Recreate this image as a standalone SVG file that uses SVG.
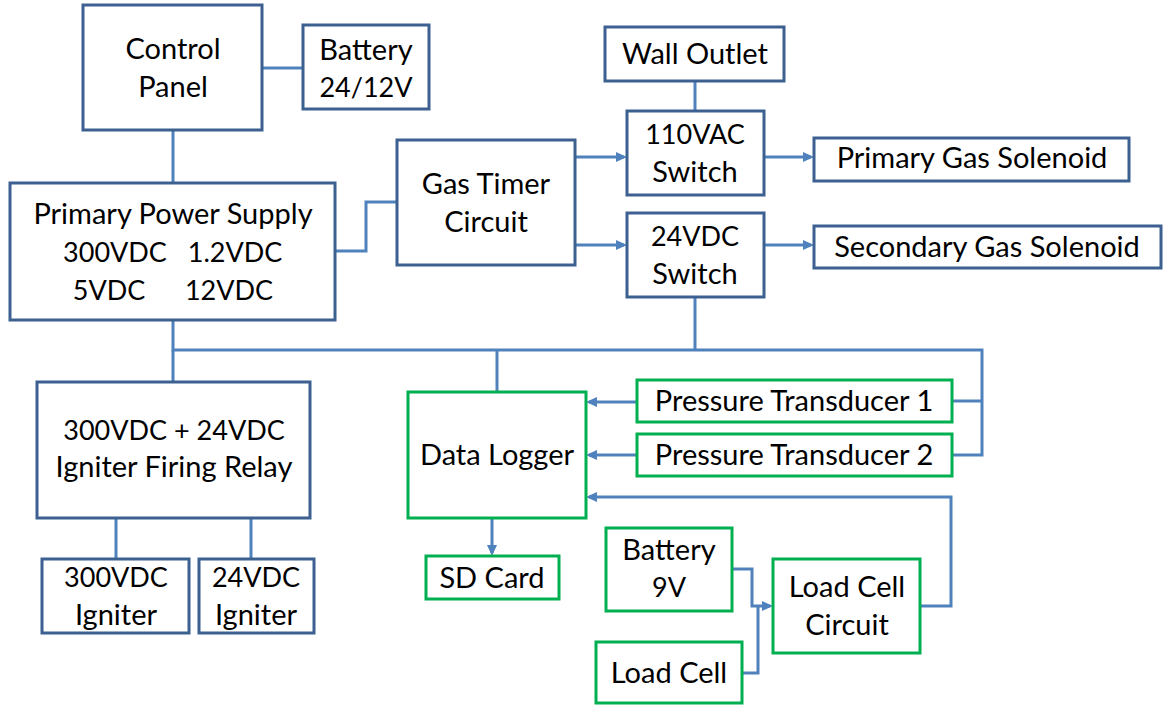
<svg xmlns="http://www.w3.org/2000/svg" width="1166" height="706" viewBox="0 0 1166 706">
<defs>
<style>
.b{fill:#fff;stroke:#3C6191;stroke-width:3}
.g{fill:#fff;stroke:#00B050;stroke-width:3}
.t{font-family:Lato,"Liberation Sans",sans-serif;font-size:29px;fill:#000;text-anchor:middle}
.n{font-size:27px}
.c{fill:none;stroke:#4F81BD;stroke-width:3}
.a{marker-end:url(#ah)}
</style>
<marker id="ah" markerUnits="userSpaceOnUse" markerWidth="12" markerHeight="12" refX="8" refY="5" orient="auto">
<path d="M0,0 L11,5 L0,10 z" fill="#4F81BD"/>
</marker>
</defs>
<rect width="1166" height="706" fill="#fff"/>
<g id="connectors">
<path class="c" d="M262,68 H303"/>
<path class="c" d="M173,130 V183"/>
<path class="c" d="M335,251 H366 V202 H397"/>
<path class="c a" d="M575,157 H624"/>
<path class="c a" d="M575,245 H624"/>
<path class="c" d="M695,81 V111"/>
<path class="c a" d="M764,157 H811"/>
<path class="c a" d="M764,245 H811"/>
<path class="c" d="M173,320 V350 H982 V455 H951"/>
<path class="c" d="M695,297 V350"/>
<path class="c" d="M982,401 H951"/>
<path class="c" d="M173,350 V381"/>
<path class="c" d="M497,350 V392"/>
<path class="c" d="M116,518 V559"/>
<path class="c" d="M251,518 V559"/>
<path class="c a" d="M492,518 V553"/>
<path class="c a" d="M637,402 H589"/>
<path class="c a" d="M637,455 H589"/>
<path class="c a" d="M920,606 H951 V497 H589"/>
<path class="c a" d="M732,569 H752 V606 H770"/>
<path class="c" d="M742,673 H758 V606"/>
</g>
<g id="control-panel"><rect class="b" x="83" y="5" width="179" height="125"/><text class="t" x="173" y="59">Control</text><text class="t" x="173" y="97">Panel</text></g>
<g id="battery-24"><rect class="b" x="303" y="25" width="126" height="84"/><text class="t" x="366" y="60">Battery</text><text class="t n" x="366" y="97">24/12V</text></g>
<g id="primary-power-supply"><rect class="b" x="10" y="183" width="325" height="137"/><text class="t" x="173" y="224">Primary Power Supply</text><text class="t n" x="115" y="262">300VDC</text><text class="t n" x="235" y="262">1.2VDC</text><text class="t n" x="109" y="300">5VDC</text><text class="t n" x="229" y="300">12VDC</text></g>
<g id="gas-timer"><rect class="b" x="397" y="140" width="178" height="125"/><text class="t" x="486" y="194">Gas Timer</text><text class="t" x="486" y="232">Circuit</text></g>
<g id="wall-outlet"><rect class="b" x="605" y="27" width="179" height="54"/><text class="t" x="695" y="64">Wall Outlet</text></g>
<g id="switch-110"><rect class="b" x="627" y="111" width="137" height="84"/><text class="t n" x="695" y="144">110VAC</text><text class="t" x="695" y="182">Switch</text></g>
<g id="switch-24"><rect class="b" x="627" y="213" width="137" height="84"/><text class="t n" x="695" y="246">24VDC</text><text class="t" x="695" y="284">Switch</text></g>
<g id="primary-solenoid"><rect class="b" x="814" y="138" width="315" height="43"/><text class="t" x="972" y="168">Primary Gas Solenoid</text></g>
<g id="secondary-solenoid"><rect class="b" x="814" y="226" width="347" height="42"/><text class="t" x="987" y="257">Secondary Gas Solenoid</text></g>
<g id="firing-relay"><rect class="b" x="37" y="382" width="273" height="136"/><text class="t n" x="174" y="440">300VDC + 24VDC</text><text class="t" x="174" y="477">Igniter Firing Relay</text></g>
<g id="igniter-300"><rect class="b" x="42" y="559" width="147" height="74"/><text class="t n" x="116" y="587">300VDC</text><text class="t" x="116" y="625">Igniter</text></g>
<g id="igniter-24"><rect class="b" x="199" y="559" width="115" height="74"/><text class="t n" x="256" y="587">24VDC</text><text class="t" x="256" y="625">Igniter</text></g>
<g id="data-logger"><rect class="g" x="408" y="392" width="178" height="126"/><text class="t" x="497" y="465">Data Logger</text></g>
<g id="sd-card"><rect class="g" x="426" y="556" width="133" height="43"/><text class="t" x="492" y="588">SD Card</text></g>
<g id="pt1"><rect class="g" x="637" y="380" width="315" height="42"/><text class="t" x="794" y="411">Pressure Transducer 1</text></g>
<g id="pt2"><rect class="g" x="637" y="434" width="315" height="42"/><text class="t" x="794" y="465">Pressure Transducer 2</text></g>
<g id="battery-9v"><rect class="g" x="606" y="528" width="126" height="83"/><text class="t" x="669" y="560">Battery</text><text class="t n" x="669" y="597">9V</text></g>
<g id="load-cell-circuit"><rect class="g" x="773" y="559" width="147" height="94"/><text class="t" x="847" y="597">Load Cell</text><text class="t" x="847" y="635">Circuit</text></g>
<g id="load-cell"><rect class="g" x="596" y="642" width="146" height="61"/><text class="t" x="669" y="683">Load Cell</text></g>
</svg>
